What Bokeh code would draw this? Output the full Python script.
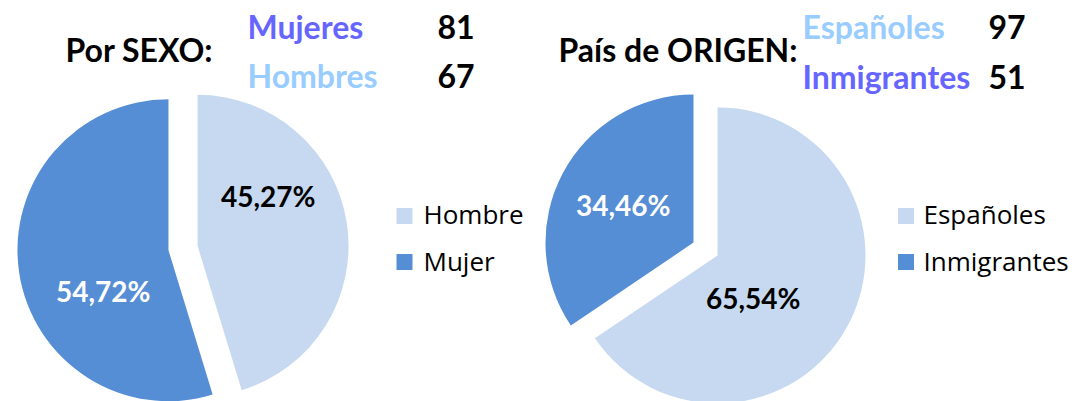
import math
from bokeh.plotting import figure
from bokeh.models import Range1d
from bokeh.core.properties import value
from bokeh.embed import file_html
from bokeh.resources import INLINE

# ---------------- data ----------------
sexo_categories = ["Hombre", "Mujer"]
sexo_counts = [67, 81]
sexo_pct_labels = ["45,27%", "54,72%"]

origen_categories = ["Españoles", "Inmigrantes"]
origen_counts = [97, 51]
origen_pct_labels = ["65,54%", "34,46%"]

sexo_title = "Por SEXO:"
sexo_header_names = ["Mujeres", "Hombres"]
sexo_header_values = ["81", "67"]

origen_title = "País de ORIGEN:"
origen_header_names = ["Españoles", "Inmigrantes"]
origen_header_values = ["97", "51"]

# ---------------- styles / layout ----------------
W, H = 1075, 401
LIGHT = "#C6D9F1"
DARK = "#558ED5"
PURPLE = "#6666FF"
SKY = "#99CCFF"
TITLE_FONT = value("Lato")
LEGEND_FONT = value("Open Sans")
TITLE_SHIFT = 14    # baseline correction (px) for 32px text
LABEL_SHIFT = 13    # for 28px text
LEGEND_SHIFT = 10   # for 26px text


def sy(v):
    return H - v


p = figure(width=W, height=H, x_range=Range1d(0, W), y_range=Range1d(0, H),
           x_axis_type=None, y_axis_type=None, toolbar_location=None,
           output_backend="svg", min_border=0)
p.grid.visible = False
p.outline_line_color = None
p.background_fill_color = "white"
p.border_fill_color = "white"


def draw_pie(counts, labels, colors, label_colors, cx, cy, radius, explode, label_polar):
    total = float(sum(counts))
    start = 90.0
    for cnt, lab, col, lcol, (rf, ang) in zip(counts, labels, colors, label_colors, label_polar):
        sweep = cnt / total * 360.0
        end = start - sweep
        mid = math.radians((start + end) / 2.0)
        ax = cx + explode * math.cos(mid)
        ay = sy(cy) + explode * math.sin(mid)
        p.wedge(x=[ax], y=[ay], radius=radius,
                start_angle=[math.radians(start)], end_angle=[math.radians(end)],
                direction="clock", fill_color=col, line_color=None)
        lx = ax + rf * radius * math.cos(math.radians(ang))
        ly = ay + rf * radius * math.sin(math.radians(ang))
        p.text(x=[lx], y=[ly - 10 + LABEL_SHIFT], text=[lab], text_align="center",
               text_baseline="alphabetic", text_font=TITLE_FONT,
               text_font_style="bold", text_font_size="28px", text_color=lcol)
        start = end


draw_pie(sexo_counts, sexo_pct_labels, [LIGHT, DARK], ["black", "white"],
         182.5, 247.5, 151, 14.7, [(0.56, 33.3), (0.52, 213.9)])
draw_pie(origen_counts, origen_pct_labels, [LIGHT, DARK], ["black", "white"],
         705, 248.5, 148, 13.6, [(0.39, -51.7), (0.53, 153.6)])


def draw_legend(cats, colors, sqx, textx):
    sq_y = [215.5, 261.5]
    tx_y = [223.5, 270]
    for c, col, yy, ty in zip(cats, colors, sq_y, tx_y):
        p.rect(x=[sqx], y=[sy(yy)], width=16, height=16, fill_color=col, line_color=None)
        p.text(x=[textx], y=[sy(ty) + LEGEND_SHIFT], text=[c], text_align="left",
               text_baseline="alphabetic", text_font=LEGEND_FONT,
               text_font_size="26px", text_color="black")


draw_legend(sexo_categories, [LIGHT, DARK], 404, 423)
draw_legend(origen_categories, [LIGHT, DARK], 905.5, 923)


def draw_header(title, tx, names, name_colors, nx, vals, vx, baselines):
    p.text(x=[tx], y=[sy(63) + TITLE_SHIFT], text=[title], text_align="left",
           text_baseline="alphabetic", text_font=TITLE_FONT, text_font_style="bold",
           text_font_size="32px", text_color="black")
    for nm, nc, v, b in zip(names, name_colors, vals, baselines):
        p.text(x=[nx], y=[sy(b) + TITLE_SHIFT], text=[nm], text_align="left",
               text_baseline="alphabetic", text_font=TITLE_FONT, text_font_style="bold",
               text_font_size="32px", text_color=nc)
        p.text(x=[vx], y=[sy(b) + TITLE_SHIFT], text=[v], text_align="left",
               text_baseline="alphabetic", text_font=TITLE_FONT, text_font_style="bold",
               text_font_size="32px", text_color="black")


draw_header(sexo_title, 65, sexo_header_names, [PURPLE, SKY], 247,
            sexo_header_values, 437, [40, 89])
draw_header(origen_title, 558, origen_header_names, [SKY, PURPLE], 802,
            origen_header_values, 988, [40, 90])

open("out.html", "w").write(file_html(p, INLINE))
